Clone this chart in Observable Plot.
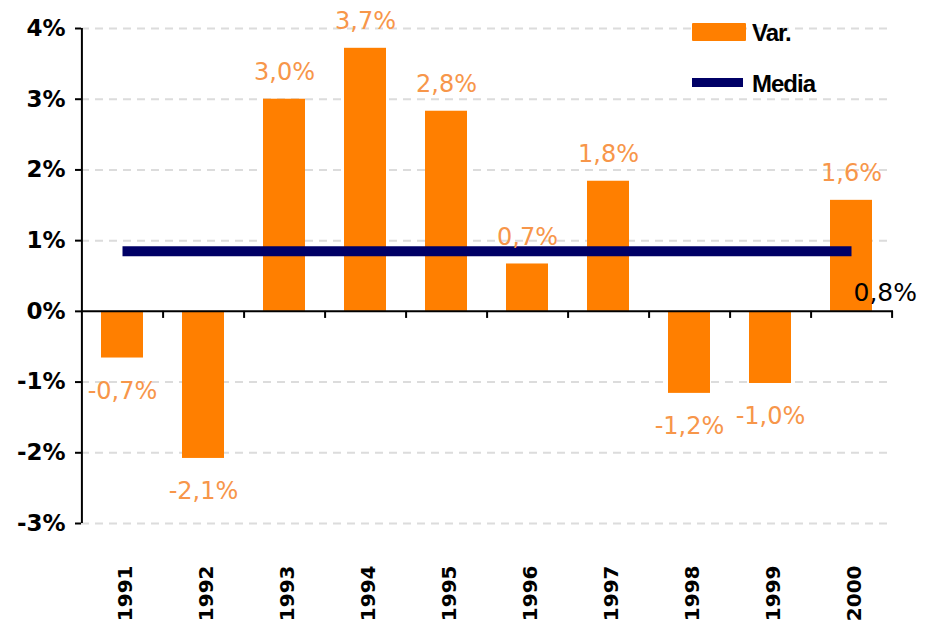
<!DOCTYPE html>
<html>
<head>
<meta charset="utf-8">
<script src="https://cdn.jsdelivr.net/npm/d3@7"></script>
<script src="https://cdn.jsdelivr.net/npm/@observablehq/plot@0.6"></script>
<style>
  html, body { margin: 0; padding: 0; background: #fff; }
  #wrap { position: relative; width: 925px; height: 622px; }
  .leg { position: absolute; font-family: "Liberation Sans", Arial, sans-serif; font-weight: bold; font-size: 24px; color: #000; letter-spacing: -1px; line-height: 1; }
  .sw { position: absolute; }
</style>
</head>
<body>
<div id="wrap">
  <div id="chart"></div>
  <div class="sw" style="left:692px;top:23px;width:54px;height:18px;background:#ff7f00;border-radius:1px"></div>
  <div class="leg" style="left:752px;top:21px">Var.</div>
  <div class="sw" style="left:692px;top:78px;width:51px;height:9px;background:#000066"></div>
  <div class="leg" style="left:752px;top:72px">Media</div>
</div>
<script>
const years = [1991, 1992, 1993, 1994, 1995, 1996, 1997, 1998, 1999, 2000];
const values = [-0.66, -2.08, 3.0, 3.72, 2.83, 0.67, 1.84, -1.16, -1.02, 1.57];
const labels = ["-0,7%", "-2,1%", "3,0%", "3,7%", "2,8%", "0,7%", "1,8%", "-1,2%", "-1,0%", "1,6%"];
const meanValue = 0.85;
const meanLabel = "0,8%";
const yTicks = [-3, -2, -1, 0, 1, 2, 3, 4];

const data = years.map((y, i) => ({year: y, value: values[i], label: labels[i]}));
const meanData = [{year: years[0], value: meanValue}, {year: years[years.length - 1], value: meanValue}];

const W = 925, H = 622, ML = 81, MR = 32, MT = 28, MB = 99;
const step = (W - ML - MR) / years.length;
const half = step / 2;

const chart = Plot.plot({
  width: W,
  height: H,
  marginLeft: ML,
  marginRight: MR,
  marginTop: MT,
  marginBottom: MB,
  x: {type: "band", domain: years, paddingInner: 0.48, paddingOuter: 0.24, axis: null},
  y: {domain: [-3, 4], axis: null},
  style: {background: "#fff", overflow: "visible"},
  marks: [
    Plot.gridY(yTicks.filter(d => d !== 0), {stroke: "#dcdcdc", strokeOpacity: 1, strokeWidth: 2, strokeDasharray: "8,6"}),
    Plot.barY(data, {x: "year", y: "value", fill: "#ff7f00"}),
    Plot.ruleY([0], {stroke: "#000", strokeWidth: 2}),
    Plot.ruleX(years, {x: d => d, y1: 0, y2: -0.1, dx: half, stroke: "#000", strokeWidth: 2}),
    Plot.ruleX([years[0]], {dx: -half, y1: -3, y2: 4, stroke: "#000", strokeWidth: 2}),
    Plot.axisY({ticks: yTicks, tickSize: 6, tickPadding: 10, tickFormat: d => d + "%", fontSize: 23, fontWeight: "bold", fontFamily: "DejaVu Sans", fill: "#000", stroke: "#000", strokeWidth: 2, label: null}),
    Plot.line(meanData, {x: "year", y: "value", stroke: "#000066", strokeWidth: 10, strokeLinecap: "butt"}),
    Plot.text(data.filter(d => d.value >= 0), {x: "year", y: "value", text: "label", dy: -27, fill: "#f7964a", fontSize: 24, fontFamily: "DejaVu Sans"}),
    Plot.text(data.filter(d => d.value < 0), {x: "year", y: "value", text: "label", dy: 33, fill: "#f7964a", fontSize: 24, fontFamily: "DejaVu Sans"}),
    Plot.text([meanData[1]], {x: "year", y: "value", text: () => meanLabel, dy: 42, dx: 2, textAnchor: "start", fill: "#000", fontSize: 25, fontFamily: "DejaVu Sans"}),
    Plot.text(years, {x: d => d, frameAnchor: "bottom", rotate: -90, textAnchor: "end", lineAnchor: "middle", dy: 42, dx: 3, text: d => String(d), fill: "#000", fontSize: 20, fontWeight: "bold", fontFamily: "DejaVu Sans"})
  ]
});
document.getElementById("chart").appendChild(chart);
</script>
</body>
</html>
